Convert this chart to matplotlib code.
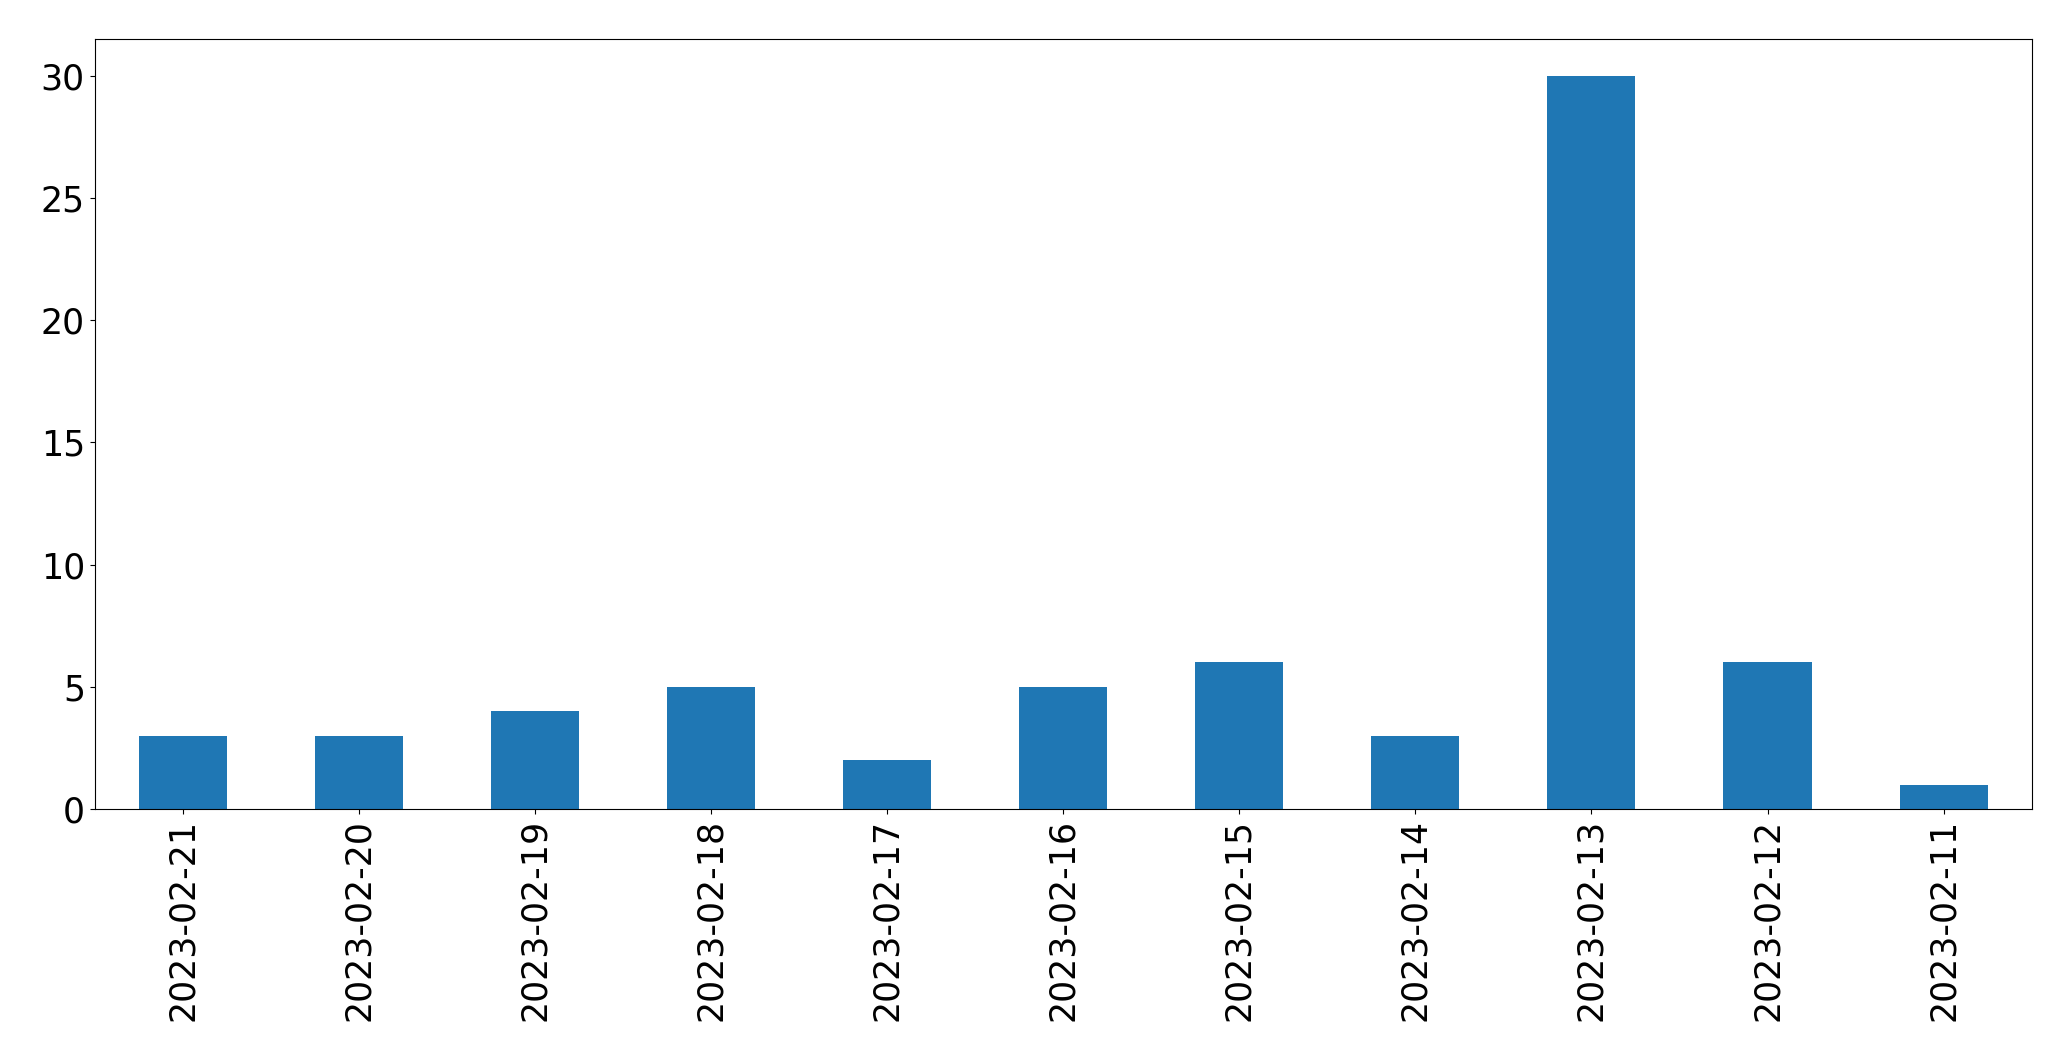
import pandas as pd
import matplotlib.pyplot as plt

# datas e contagens
datas = ["2023-02-21", "2023-02-20", "2023-02-19", "2023-02-18", "2023-02-17",
         "2023-02-16", "2023-02-15", "2023-02-14", "2023-02-13", "2023-02-12",
         "2023-02-11"]
contagens = [3, 3, 4, 5, 2, 5, 6, 3, 30, 6, 1]

serie = pd.Series(contagens, index=datas)

fig = plt.figure(figsize=(20.71, 10.61), dpi=100)
ax = fig.add_subplot(111)
serie.plot(kind="bar", ax=ax, color="#1f77b4")
ax.tick_params(axis="both", labelsize=25)
fig.subplots_adjust(left=0.0457, right=0.981, top=0.963, bottom=0.2375)
fig.savefig("out.png", dpi=100)
